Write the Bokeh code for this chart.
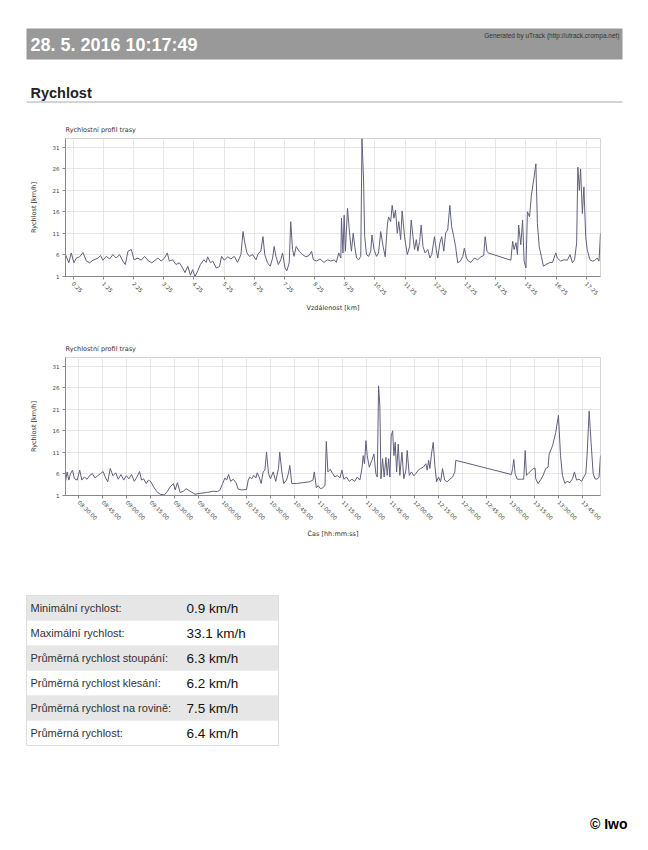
import numpy as np
import pandas as pd
from bokeh.plotting import figure
from bokeh.layouts import column
from bokeh.models import Range1d, FixedTicker, NumeralTickFormatter, DatetimeTickFormatter
from bokeh.embed import file_html
from bokeh.resources import INLINE
from bokeh.core.properties import value

# ---------------- data ----------------
report_time = "28. 5. 2016 10:17:49"
generator_text = "Generated by uTrack (http://utrack.crompa.net)"
section_title = "Rychlost"
chart_title = "Rychlostní profil trasy"
y_label = "Rychlost [km/h]"
x_label_dist = "Vzdálenost [km]"
x_label_time = "Čas [hh:mm:ss]"
author = "© Iwo"

# speed profile vs distance
dist_km = [
    0.00, 0.11, 0.19, 0.28, 0.36, 0.47, 0.58, 0.69, 0.80, 0.91,
    1.08, 1.16, 1.24, 1.35, 1.46, 1.57, 1.68, 1.79, 1.90, 1.98,
    2.07, 2.18, 2.27, 2.40, 2.51, 2.62, 2.75, 2.86, 2.97, 3.06,
    3.17, 3.28, 3.37, 3.44, 3.55, 3.66, 3.77, 3.88, 3.96, 4.05,
    4.14, 4.21, 4.29, 4.38, 4.47, 4.58, 4.66, 4.71, 4.80, 4.88,
    4.99, 5.10, 5.17, 5.26, 5.37, 5.48, 5.59, 5.70, 5.81, 5.88,
    5.94, 6.01, 6.09, 6.20, 6.31, 6.38, 6.47, 6.54, 6.60, 6.69,
    6.78, 6.86, 6.91, 6.97, 7.05, 7.13, 7.19, 7.27, 7.33, 7.41,
    7.46, 7.52, 7.57, 7.64, 7.74, 7.85, 7.96, 8.07, 8.15, 8.21,
    8.32, 8.43, 8.56, 8.68, 8.79,
    8.90, 8.97, 9.05, 9.12, 9.14, 9.19, 9.23, 9.27, 9.34, 9.42,
    9.47, 9.53, 9.58, 9.64, 9.71, 9.78, 9.82, 9.87, 9.91, 9.97,
    10.04, 10.11, 10.15, 10.22, 10.30, 10.37, 10.44, 10.52, 10.59, 10.66,
    10.70, 10.77, 10.82, 10.88, 10.93, 10.99, 11.04, 11.10, 11.15, 11.23,
    11.32, 11.40, 11.45, 11.51, 11.56, 11.62, 11.67, 11.73, 11.78, 11.84,
    11.91, 12.00, 12.07, 12.13, 12.22, 12.28, 12.33, 12.40, 12.46, 12.53,
    12.59, 12.66, 12.73, 12.79, 12.86, 12.92, 12.99, 13.08, 13.16, 13.21,
    13.28, 13.34, 13.43, 13.54, 13.65, 13.76, 13.85, 13.90, 13.96, 14.00,
    14.75, 14.81, 14.86, 14.92, 14.97, 15.01, 15.08, 15.14, 15.19, 15.25,
    15.30, 15.37, 15.43, 15.52, 15.58, 15.63, 15.69, 15.76, 15.83, 15.91,
    16.02, 16.13, 16.24, 16.29, 16.40, 16.51, 16.62, 16.71, 16.79, 16.86,
    16.93, 16.97, 17.02, 17.06, 17.12, 17.17, 17.23, 17.28, 17.37, 17.45,
    17.52, 17.61, 17.67, 17.72,
]
speed_by_dist = [
    6.0, 4.1, 6.4, 4.1, 5.2, 5.5, 6.5, 4.5, 4.1, 4.7,
    5.2, 5.8, 4.7, 5.6, 5.0, 6.0, 5.2, 6.0, 4.5, 3.7,
    6.8, 7.2, 4.8, 5.2, 4.7, 5.6, 4.5, 4.1, 4.7, 5.2,
    4.5, 5.2, 6.4, 4.5, 4.8, 3.7, 4.1, 2.9, 1.8, 3.3,
    1.2, 2.5, 0.9, 2.2, 3.7, 4.8, 4.2, 5.5, 4.1, 4.5,
    2.9, 3.2, 5.6, 4.7, 5.5, 5.0, 5.6, 4.2, 6.0, 11.4,
    8.7, 6.4, 5.6, 6.0, 4.8, 6.2, 6.8, 10.2, 6.0, 4.1,
    3.3, 5.2, 7.9, 5.6, 3.7, 4.8, 6.4, 2.9, 2.2, 4.1,
    13.7, 7.2, 5.6, 7.9, 6.8, 6.0, 5.5, 5.8, 6.8, 4.8,
    4.5, 5.0, 4.2, 4.8, 4.5,
    4.8, 4.2, 6.4, 5.2, 14.5, 6.4, 15.2, 6.8, 16.8, 10.2,
    6.8, 11.0, 7.9, 5.2, 4.8, 5.6, 33.1, 24.1, 10.2, 6.0,
    5.6, 6.8, 10.6, 7.2, 5.6, 6.4, 11.4, 7.9, 5.5, 12.9,
    14.8, 13.7, 17.5, 14.5, 16.4, 11.0, 13.7, 9.5, 16.2, 10.2,
    6.0, 7.9, 14.1, 10.2, 7.2, 9.5, 6.8, 9.1, 12.9, 7.9,
    6.4, 7.2, 5.2, 6.0, 10.2, 7.2, 5.2, 8.7, 10.2, 6.8,
    11.0, 11.8, 17.5, 12.5, 10.2, 7.9, 4.1, 4.5, 5.6, 7.5,
    5.2, 4.5, 4.2, 5.2, 4.8, 5.5, 5.8, 10.2, 6.8, 6.4,
    4.7, 9.1, 7.2, 8.8, 6.0, 12.9, 8.3, 14.1, 4.5, 2.9,
    16.0, 14.8, 19.8, 24.1, 27.2, 13.3, 7.9, 5.6, 3.3, 3.7,
    4.1, 4.2, 6.4, 5.2, 4.5, 4.8, 4.7, 6.0, 4.1, 4.8,
    8.7, 26.4, 21.0, 26.0, 15.6, 21.8, 10.2, 7.2, 4.8, 4.5,
    4.6, 5.2, 4.5, 11.0,
]

# speed profile vs time (minutes after 08:30:00)
time_start = "2016-05-28 08:30:00"
time_min = [
    -8.3, -7.3, -6.2, -5.2, -3.9, -2.7, -1.0, 0.6, 1.9, 3.5,
    5.2, 6.9, 8.5, 10.2, 11.8, 13.5, 15.2, 16.8, 18.1, 19.7,
    21.4, 23.1, 24.7, 26.4, 28.1, 29.7, 31.4, 33.0, 34.7, 36.4,
    38.0, 39.3, 40.5, 42.2, 43.6, 45.1, 46.8, 48.8, 50.9, 53.4,
    55.5, 57.1, 59.2, 60.3, 61.7, 63.4, 65.5, 67.1, 69.6, 72.7,
    75.8, 80.0, 84.2, 86.7, 88.3, 90.0, 91.4, 92.5, 93.7, 95.0,
    96.6, 98.3, 99.7, 101.8, 104.9, 106.0, 107.0, 108.1, 109.5, 110.8,
    111.6, 112.8, 114.1, 115.3, 116.4, 117.4, 118.7, 119.9, 121.6, 123.2,
    124.9, 125.7, 127.0, 128.2, 129.9, 131.1, 132.0, 133.2, 136.1, 140.3,
    144.4, 146.5, 147.3, 148.6, 149.8, 151.1, 152.7, 154.0, 154.8, 155.8,
    157.3,
    158.8, 160.2, 161.7, 163.3, 164.6, 165.8, 167.5, 169.2, 170.8, 172.5,
    174.2, 175.8, 177.1, 177.9, 178.7, 179.6, 180.4, 181.7, 183.3, 184.6,
    185.8, 186.7, 187.5, 188.3, 189.0, 190.0, 191.0, 192.1, 192.9, 193.8,
    194.6, 195.4, 196.3, 197.1, 197.9, 198.8, 199.8, 200.8, 202.1, 203.3,
    204.6, 205.4, 206.7, 208.1, 209.6, 210.8, 212.3, 213.8, 215.4, 217.1,
    217.9, 218.8, 219.6, 220.6, 221.7, 222.7, 223.8, 225.0, 226.3, 227.5,
    228.8, 230.4, 232.1, 233.8, 235.2, 235.8, 270.6, 271.3, 272.1, 272.9,
    274.2, 276.9, 278.3, 279.2, 280.0, 281.0, 284.2, 285.4, 285.8, 287.3,
    288.8, 290.4, 292.1, 293.5, 294.2, 296.3, 298.3, 300.0, 301.3, 302.5,
    304.0, 305.4, 307.1, 308.8, 310.0, 311.3, 312.9, 314.4, 315.8, 317.1,
    317.9, 319.2, 320.4, 321.7, 322.9, 324.2, 325.4, 326.3,
]
speed_by_time = [
    4.1, 6.4, 4.5, 6.0, 6.8, 4.8, 4.5, 6.8, 4.5, 5.2,
    4.7, 5.6, 6.0, 5.0, 5.5, 6.0, 6.5, 5.0, 4.1, 7.2,
    5.5, 6.2, 4.7, 5.8, 4.5, 5.5, 4.8, 5.8, 4.2, 5.2,
    6.5, 4.5, 4.8, 3.7, 4.5, 4.1, 2.9, 1.8, 1.2, 1.0,
    1.9, 2.9, 3.7, 2.2, 3.9, 1.6, 1.9, 2.5, 1.9, 1.2,
    1.4, 1.6, 1.9, 1.8, 2.2, 3.7, 5.0, 4.5, 5.8, 4.2,
    4.7, 3.9, 2.4, 2.2, 2.3, 4.5, 5.2, 4.8, 5.6, 5.0,
    6.2, 5.2, 3.7, 6.4, 6.8, 11.0, 6.0, 4.8, 6.4, 4.2,
    7.2, 11.0, 6.4, 3.7, 4.5, 6.0, 7.9, 3.7, 3.7, 3.9,
    4.1, 4.5, 6.4, 2.7, 3.2, 2.5, 2.7, 3.3, 13.5, 6.4,
    7.0,
    6.0, 5.2, 5.6, 5.0, 6.8, 4.7, 5.2, 4.2, 4.7, 4.2,
    5.2, 4.5, 7.2, 10.2, 8.3, 13.7, 10.2, 7.5, 9.1, 10.6,
    6.0, 5.2, 26.5, 21.8, 4.8, 9.5, 5.2, 9.8, 5.6, 9.5,
    5.2, 14.8, 16.0, 10.2, 13.3, 6.4, 12.9, 5.6, 11.0, 4.8,
    6.8, 11.4, 5.6, 6.4, 5.5, 6.0, 6.8, 7.2, 7.5, 8.3,
    6.8, 9.1, 7.2, 10.6, 13.3, 7.9, 4.1, 5.2, 4.1, 7.2,
    4.5, 4.1, 4.7, 5.2, 6.4, 9.1, 5.8, 7.2, 9.3, 6.0,
    4.7, 4.7, 4.7, 11.4, 5.6, 6.0, 7.2, 7.3, 4.8, 3.7,
    4.5, 5.6, 7.2, 7.5, 10.6, 12.5, 15.6, 19.6, 10.2, 5.6,
    3.7, 4.2, 3.9, 4.8, 6.4, 4.5, 4.7, 4.2, 5.2, 6.0,
    10.2, 20.6, 13.3, 6.0, 4.8, 4.7, 5.2, 10.2,
]

speed_ticks = [1, 6, 11, 16, 21, 26, 31]
dist_ticks = [0.25, 1.25, 2.25, 3.25, 4.25, 5.25, 6.25, 7.25, 8.25, 9.25,
              10.25, 11.25, 12.25, 13.25, 14.25, 15.25, 16.25, 17.25]
time_ticks = ["08:30:00", "08:45:00", "09:00:00", "09:15:00", "09:30:00", "09:45:00",
              "10:00:00", "10:15:00", "10:30:00", "10:45:00", "11:00:00", "11:15:00",
              "11:30:00", "11:45:00", "12:00:00", "12:15:00", "12:30:00", "12:45:00",
              "13:00:00", "13:15:00", "13:30:00", "13:45:00"]

stat_labels = ["Minimální rychlost:", "Maximální rychlost:", "Průměrná rychlost stoupání:",
               "Průměrná rychlost klesání:", "Průměrná rychlost na rovině:", "Průměrná rychlost:"]
stat_values = [0.9, 33.1, 6.3, 6.2, 7.5, 6.4]
stat_unit = "km/h"

# ---------------- styling ----------------
W = 640
CHART_FONT = "DejaVu Sans"
HTML_FONT = "Liberation Sans"
LINE_COLOR = "#60607e"


def blank(height):
    f = figure(width=W, height=height, x_range=Range1d(0, W), y_range=Range1d(height, 0),
               x_axis_location=None, y_axis_location=None,
               min_border_left=0, min_border_right=0, min_border_top=0, min_border_bottom=0,
               output_backend="svg", toolbar_location=None)
    f.grid.visible = False
    f.outline_line_color = None
    f.background_fill_color = "white"
    f.border_fill_color = "white"
    return f


# header (page coordinates)
hdr = blank(112)
hdr.quad(left=[26], right=[622], top=[28], bottom=[59], fill_color="#999999", line_color=None)
hdr.text(x=[30], y=[44], text=[report_time], text_font=value(HTML_FONT), text_font_size="18px",
         text_font_style="bold", text_color="white", text_baseline="middle", text_align="left")
hdr.text(x=[619], y=[35], text=[generator_text], text_font=value(HTML_FONT), text_font_size="6.5px",
         text_color="#333333", text_baseline="middle", text_align="right")
hdr.text(x=[30], y=[92], text=[section_title], text_font=value(HTML_FONT), text_font_size="14.5px",
         text_font_style="bold", text_color="#222222", text_baseline="middle", text_align="left")
hdr.segment(x0=[26], x1=[622], y0=[101.5], y1=[101.5], line_color="#aaaaaa", line_width=1)


def style_chart(p, xlabel):
    p.title.text_font = CHART_FONT
    p.title.text_font_size = "6.5px"
    p.title.text_font_style = "normal"
    p.title.text_color = "#333333"
    p.title.align = "left"
    p.title.offset = 0
    p.title.standoff = 10
    p.background_fill_color = "white"
    p.border_fill_color = "white"
    p.outline_line_color = "#d4d4d4"
    p.grid.grid_line_color = "#e6e6ec"
    p.yaxis.ticker = FixedTicker(ticks=speed_ticks)
    p.axis.axis_line_color = "#888888"
    p.axis.major_tick_line_color = "#888888"
    p.axis.major_tick_out = 3
    p.axis.major_tick_in = 0
    p.axis.minor_tick_line_color = None
    p.axis.major_label_text_font = CHART_FONT
    p.axis.major_label_text_font_size = "5.5px"
    p.axis.major_label_text_color = "#444444"
    p.axis.major_label_standoff = 3
    p.axis.axis_label_text_font = CHART_FONT
    p.axis.axis_label_text_font_size = "6.5px"
    p.axis.axis_label_text_font_style = "normal"
    p.axis.axis_label_text_color = "#333333"
    p.yaxis.axis_label = y_label
    p.yaxis.axis_label_standoff = 12
    p.xaxis.axis_label = xlabel
    p.xaxis.axis_label_standoff = 4
    p.xaxis.major_label_orientation = -np.pi / 4


y_lo, y_hi = min(stat_values), max(stat_values)

# chart 1: speed vs distance
p1 = figure(width=W, height=219, title=chart_title,
            x_range=Range1d(min(dist_km), max(dist_km)), y_range=Range1d(y_lo, y_hi),
            min_border_left=65, min_border_right=W - 600, min_border_top=26, min_border_bottom=55,
            output_backend="svg", toolbar_location=None)
style_chart(p1, x_label_dist)
p1.xaxis.ticker = FixedTicker(ticks=dist_ticks)
p1.xaxis.formatter = NumeralTickFormatter(format="0.00")
p1.line(dist_km, speed_by_dist, line_color=LINE_COLOR, line_width=1)

# chart 2: speed vs time
t0 = pd.Timestamp(time_start)
times = t0 + pd.to_timedelta(time_min, unit="m")
tick_ms = [(pd.Timestamp(time_start[:11] + t) - pd.Timestamp("1970-01-01")).total_seconds() * 1000
           for t in time_ticks]
p2 = figure(width=W, height=244, title=chart_title, x_axis_type="datetime",
            x_range=Range1d(times.min(), times.max()), y_range=Range1d(y_lo, y_hi),
            min_border_left=65, min_border_right=W - 600, min_border_top=26, min_border_bottom=80,
            output_backend="svg", toolbar_location=None)
style_chart(p2, x_label_time)
p2.xaxis.ticker = FixedTicker(ticks=tick_ms)
fmt = "%H:%M:%S"
p2.xaxis.formatter = DatetimeTickFormatter(microseconds=fmt, milliseconds=fmt, seconds=fmt, minsec=fmt,
                                           minutes=fmt, hourmin=fmt, hours=fmt, days=fmt, months=fmt,
                                           years=fmt)
p2.line(times, speed_by_time, line_color=LINE_COLOR, line_width=1)

# statistics table (page x coordinates, y relative to figure top at page 575)
tbl = blank(270)
n = len(stat_labels)
row_top = [20 + 25 * i for i in range(n)]
row_bot = [t + 25 for t in row_top]
row_mid = [t + 12.5 for t in row_top]
row_fill = ["#e6e6e6" if i % 2 == 0 else "#ffffff" for i in range(n)]
tbl.quad(left=[26] * n, right=[278] * n, top=row_top, bottom=row_bot, fill_color=row_fill,
         line_color="#eeeeee", line_width=1)
tbl.quad(left=[26], right=[278], top=[row_top[0]], bottom=[row_bot[-1]], fill_color=None,
         line_color="#dddddd", line_width=1)
tbl.text(x=[30] * n, y=row_mid, text=stat_labels, text_font=value(HTML_FONT), text_font_size="11px",
         text_color="#333333", text_baseline="middle", text_align="left")
tbl.text(x=[186] * n, y=row_mid, text=[f"{v:.1f} {stat_unit}" for v in stat_values],
         text_font=value(HTML_FONT), text_font_size="13.5px", text_color="#111111",
         text_baseline="middle", text_align="left")
tbl.text(x=[627], y=[248], text=[author], text_font=value(HTML_FONT), text_font_size="14px",
         text_font_style="bold", text_color="#000000", text_baseline="middle", text_align="right")

layout = column(hdr, column(p1, p2), tbl, spacing=0)
open("out.html", "w").write(file_html(layout, INLINE))
